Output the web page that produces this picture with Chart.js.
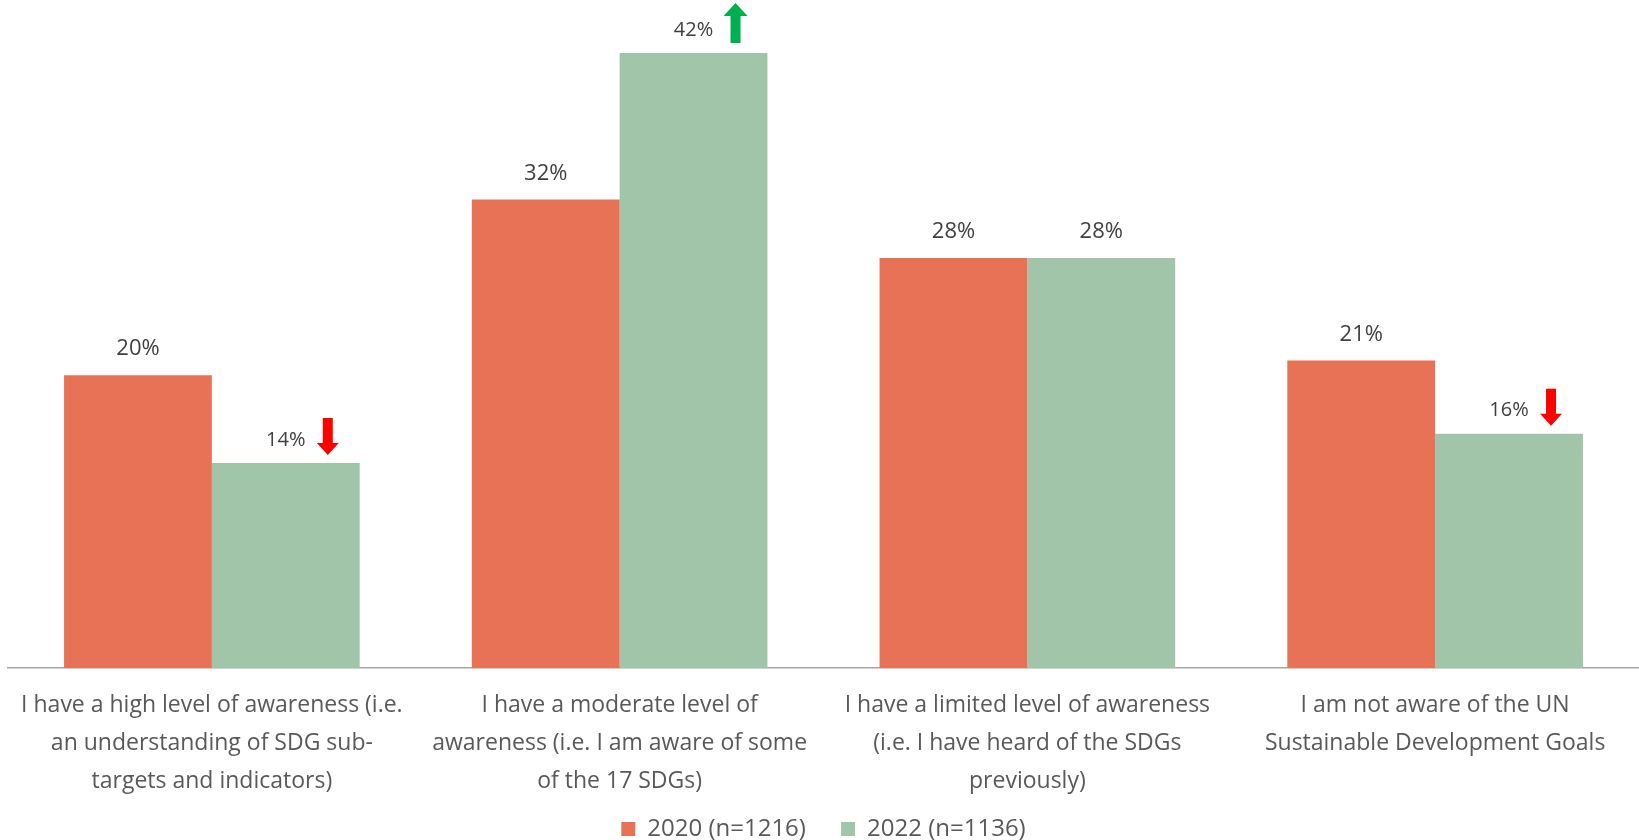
<!DOCTYPE html>
<html>
<head>
<meta charset="utf-8">
<script src="https://cdn.jsdelivr.net/npm/chart.js@4"></script>
<style>
  html, body { margin: 0; padding: 0; background: #fff; }
  #wrap { width: 1639px; height: 840px; }
</style>
</head>
<body>
<div id="wrap"><canvas id="myChart"></canvas></div>
<script>
// Data
const categories = [
    ["I have a high level of awareness (i.e.", "an understanding of SDG sub-", "targets and indicators)"],
    ["I have a moderate level of", "awareness (i.e. I am aware of some", "of the 17 SDGs)"],
    ["I have a limited level of awareness", "(i.e. I have heard of the SDGs", "previously)"],
    ["I am not aware of the UN", "Sustainable Development Goals"]
];
const series2020 = [20, 32, 28, 21];
const series2022 = [14, 42, 28, 16];
// change markers shown next to the 2022 labels
const change2022 = ['down', 'up', null, 'down'];
const seriesNames = ['2020 (n=1216)', '2022 (n=1136)'];

const FONT = '"Open Sans", Lato, sans-serif';
const TEXT = '#595959';

// Draws value labels above bars plus the up/down arrows
const labelPlugin = {
    id: 'valueLabels',
    afterDatasetsDraw(chart) {
        const ctx = chart.ctx;
        chart.data.datasets.forEach((ds, di) => {
            const meta = chart.getDatasetMeta(di);
            meta.data.forEach((bar, i) => {
                const arrow = di === 1 ? change2022[i] : null;
                ctx.save();
                ctx.fillStyle = '#404040';
                ctx.textAlign = 'center';
                ctx.textBaseline = 'middle';
                ctx.font = (arrow ? '20px ' : '22px ') + FONT;
                const ty = bar.y - (arrow ? 23 : 26);
                ctx.fillText(ds.data[i] + '%', bar.x, ty);
                if (arrow) {
                    const ax = bar.x + 42;
                    const top = bar.y - 45;
                    const bot = bar.y - 8;
                    ctx.fillStyle = arrow === 'up' ? '#00B050' : '#FF0000';
                    ctx.beginPath();
                    if (arrow === 'down') {
                        ctx.moveTo(ax - 5, top);
                        ctx.lineTo(ax + 5, top);
                        ctx.lineTo(ax + 5, bot - 12);
                        ctx.lineTo(ax + 11, bot - 12);
                        ctx.lineTo(ax, bot);
                        ctx.lineTo(ax - 11, bot - 12);
                        ctx.lineTo(ax - 5, bot - 12);
                    } else {
                        const t = bar.y - 50;
                        const b = bar.y - 10;
                        ctx.moveTo(ax - 5, b);
                        ctx.lineTo(ax + 5, b);
                        ctx.lineTo(ax + 5, t + 13);
                        ctx.lineTo(ax + 12, t + 13);
                        ctx.lineTo(ax, t);
                        ctx.lineTo(ax - 12, t + 13);
                        ctx.lineTo(ax - 5, t + 13);
                    }
                    ctx.closePath();
                    ctx.fill();
                }
                ctx.restore();
            });
        });
    }
};

const ctx = document.getElementById('myChart');

const myChart = new Chart(ctx, {
    type: 'bar',
    data: {
        labels: categories,
        datasets: [{
            label: seriesNames[0],
            backgroundColor: '#E87255',
            data: series2020,
        }, {
            label: seriesNames[1],
            backgroundColor: '#A0C5A8',
            data: series2022,
        }]
    },
    options: {
        responsive: true,
        maintainAspectRatio: false,
        animation: false,
        categoryPercentage: 0.725,
        barPercentage: 1.0,
        layout: { padding: { left: 8, right: 0, top: 9, bottom: -11 } },
        scales: {
            x: {
                grid: { display: false },
                border: { display: true, color: '#A6A6A6', width: 1.5 },
                ticks: {
                    color: TEXT,
                    font: { family: FONT, size: 23, lineHeight: 1.65 },
                    padding: 10,
                    maxRotation: 0,
                    autoSkip: false
                },
                afterFit(scale) { scale.height += 3; }
            },
            y: {
                display: false,
                min: 0,
                max: 45
            }
        },
        plugins: {
            tooltip: { enabled: false },
            legend: {
                position: 'bottom',
                labels: {
                    color: TEXT,
                    font: { family: FONT, size: 24 },
                    boxWidth: 14,
                    boxHeight: 14,
                    padding: 4,
                    generateLabels(chart) {
                        const items = Chart.defaults.plugins.legend.labels.generateLabels(chart);
                        items[0].text = items[0].text + '\u00a0\u00a0\u00a0\u00a0\u00a0';
                        return items;
                    }
                }
            }
        }
    },
    plugins: [labelPlugin]
});
</script>
</body>
</html>
